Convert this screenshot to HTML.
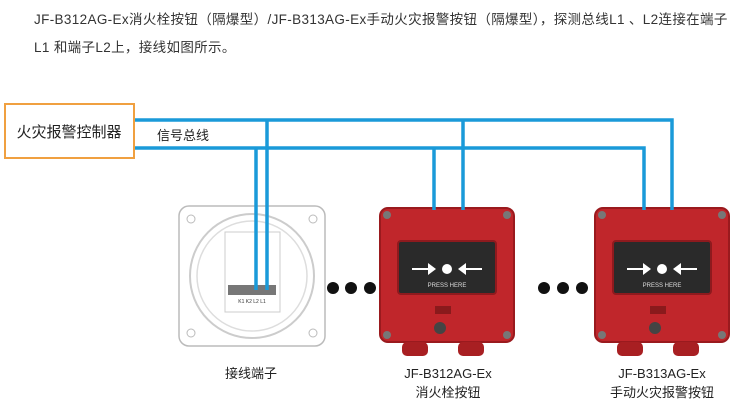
<!DOCTYPE html>
<html><head><meta charset="utf-8"><style>
html,body{margin:0;padding:0;background:#fff;}
body{width:750px;height:402px;overflow:hidden;position:relative;font-family:"Liberation Sans","Noto Sans CJK SC",sans-serif;}
.t{position:absolute;color:#333;font-size:13.5px;letter-spacing:0.35px;white-space:nowrap;}
</style></head><body>
<div class="t" style="left:34px;top:8px;">JF-B312AG-Ex消火栓按钮（隔爆型）/JF-B313AG-Ex手动火灾报警按钮（隔爆型），探测总线L1 、L2连接在端子</div>
<div class="t" style="left:34px;top:36px;">L1 和端子L2上，接线如图所示。</div>
<svg width="750" height="402" style="position:absolute;left:0;top:0" xmlns="http://www.w3.org/2000/svg">
<defs>
<g id="dev">
<rect x="0" y="0" width="134" height="134" rx="8" fill="#c0262b"/>
<rect x="0" y="0" width="134" height="134" rx="8" fill="none" stroke="#9a1a1e" stroke-width="2"/>
<circle cx="7" cy="7" r="4" fill="#777"/><circle cx="127" cy="7" r="4" fill="#777"/>
<circle cx="7" cy="127" r="4" fill="#777"/><circle cx="127" cy="127" r="4" fill="#777"/>
<rect x="18" y="33" width="98" height="53" rx="3" fill="#2a2a2a" stroke="#8e1a1e" stroke-width="2"/>
<polygon points="32,60 48,60 48,55 56,61 48,67 48,62 32,62" fill="#fff"/>
<circle cx="67" cy="61" r="5" fill="#fff"/>
<polygon points="102,60 86,60 86,55 78,61 86,67 86,62 102,62" fill="#fff"/>
<text x="67" y="79" font-size="6" fill="#ddd" text-anchor="middle" font-family="Liberation Sans,Noto Sans CJK SC,sans-serif">PRESS HERE</text>
<rect x="55" y="98" width="16" height="8" fill="#8a1a1c"/>
<circle cx="60" cy="120" r="6" fill="#444"/>
<rect x="22" y="134" width="26" height="14" rx="5" fill="#a81f22"/>
<rect x="78" y="134" width="26" height="14" rx="5" fill="#a81f22"/>
</g>
</defs>
<rect x="179" y="206" width="146" height="140" rx="10" fill="#fff" stroke="#bbb" stroke-width="1.5"/>
<circle cx="252" cy="276" r="62" fill="none" stroke="#ccc" stroke-width="2"/>
<circle cx="252" cy="276" r="55" fill="none" stroke="#ddd" stroke-width="1.5"/>
<rect x="225" y="232" width="55" height="80" fill="#fff" stroke="#ccc"/>
<rect x="228" y="285" width="48" height="10" fill="#777"/>
<text x="252" y="303" font-size="5" fill="#333" text-anchor="middle">K1 K2 L2 L1</text>
<circle cx="191" cy="219" r="4" fill="none" stroke="#bbb"/><circle cx="313" cy="219" r="4" fill="none" stroke="#bbb"/>
<circle cx="191" cy="333" r="4" fill="none" stroke="#bbb"/><circle cx="313" cy="333" r="4" fill="none" stroke="#bbb"/>
<use href="#dev" x="380" y="208"/>
<use href="#dev" x="595" y="208"/>
<g fill="#111"><circle cx="333" cy="288" r="6"/><circle cx="351" cy="288" r="6"/><circle cx="370" cy="288" r="6"/>
<circle cx="544" cy="288" r="6"/><circle cx="563" cy="288" r="6"/><circle cx="582" cy="288" r="6"/></g>
<g fill="none" stroke="#1a9ad9" stroke-width="3.5">
<polyline points="135,120 672,120 672,210"/>
<polyline points="135,148 644,148 644,210"/>
<line x1="267" y1="120" x2="267" y2="290"/>
<line x1="256" y1="148" x2="256" y2="290"/>
<line x1="463" y1="120" x2="463" y2="210"/>
<line x1="434" y1="148" x2="434" y2="210"/>
</g>
<rect x="5" y="104" width="129" height="54" fill="#fff" stroke="#f0a040" stroke-width="2"/>
<text x="69" y="137" font-size="15" fill="#222" text-anchor="middle" font-family="Liberation Sans,Noto Sans CJK SC,sans-serif">火灾报警控制器</text>
<text x="157" y="140" font-size="13" fill="#222" font-family="Liberation Sans,Noto Sans CJK SC,sans-serif">信号总线</text>
<g font-size="13" fill="#222" text-anchor="middle" font-family="Liberation Sans,Noto Sans CJK SC,sans-serif">
<text x="251" y="378">接线端子</text>
<text x="448" y="378">JF-B312AG-Ex</text>
<text x="448" y="397">消火栓按钮</text>
<text x="662" y="378">JF-B313AG-Ex</text>
<text x="662" y="397">手动火灾报警按钮</text>
</g>
</svg>
</body></html>
